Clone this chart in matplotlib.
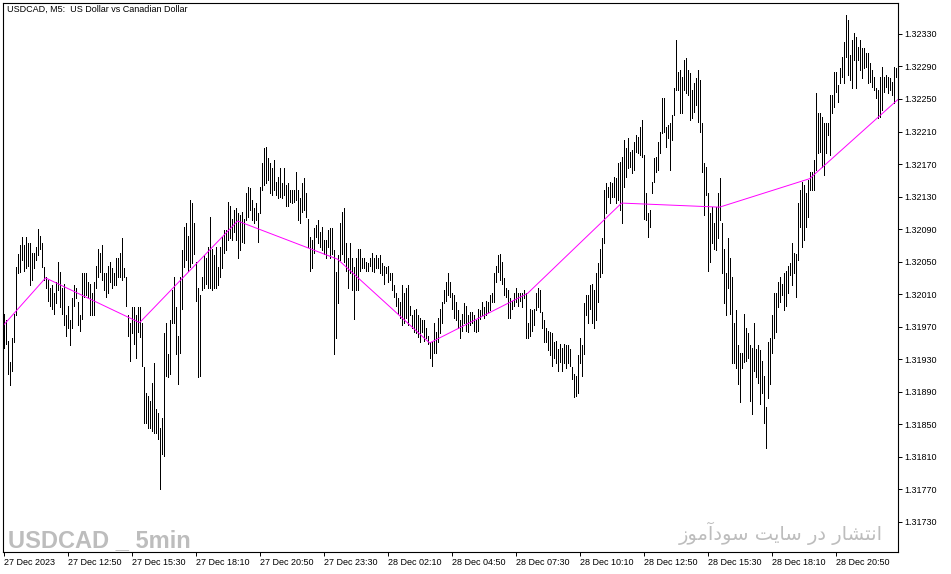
import numpy as np
import matplotlib
matplotlib.use("Agg")
import matplotlib.pyplot as plt

# USDCAD M5 bars, prices stored as points above 1.31000 (1 point = 0.00001)
high_pts = [
    986, 978, 953, 926, 956, 986, 1044, 1060, 1070, 1080,
    1070, 1080, 1073, 1073, 1061, 1061, 1068, 1090, 1082, 1073,
    1043, 1031, 1027, 1017, 1021, 1012, 1025, 1049, 1037, 1018,
    1023, 984, 996, 978, 1005, 1021, 1018, 1000, 984, 1036,
    1036, 1036, 1025, 1023, 1012, 1025, 1045, 1066, 1061, 1070,
    1036, 1036, 1045, 1049, 1042, 1036, 1054, 1055, 1061, 1079,
    1042, 1031, 984, 975, 994, 994, 984, 994,
    994, 975, 920, 889, 885, 879, 901, 925, 869, 864,
    846, 858, 962, 974, 937, 978, 1015, 1031, 994, 959,
    1031, 1064, 1092, 1098, 1082, 1126, 1122, 1098, 1049, 1018,
    1009, 1031, 1058, 1055, 1068, 1105, 1066, 1058, 1068, 1043,
    1068, 1080, 1089, 1089, 1123, 1119, 1103, 1113, 1116, 1110,
    1107, 1111, 1103, 1134, 1142, 1140, 1126, 1116, 1122, 1110,
    1142, 1171, 1190, 1191, 1177,
    1171, 1165, 1175, 1148, 1154, 1165, 1147, 1165, 1144, 1147,
    1138, 1138, 1138, 1160, 1138, 1128, 1147, 1153, 1134, 1103,
    1080, 1076, 1091, 1095, 1101, 1086, 1092, 1076, 1076, 1089,
    1091, 1091, 1064, 1037, 1058, 1097, 1111, 1116, 1073, 1054,
    1073, 1054, 1043, 1054, 1066, 1066, 1055, 1054, 1049, 1048,
    1054, 1061, 1054, 1058, 1054, 1058, 1048, 1045, 1043, 1045,
    1036, 1036, 1021, 1012, 1005, 1000, 1021, 1012, 1018, 1021,
    996, 984, 990, 992, 984, 981, 978, 978, 968, 959,
    951, 951, 975, 963, 981, 992, 1000, 1015, 1025, 1036,
    1025, 1012, 1009, 1000, 990, 978, 986, 999, 996, 984,
    988, 988, 984, 978, 992, 990, 1000, 994, 1002, 1000,
    1009, 1011, 1036, 1045, 1058, 1060, 1049, 1030, 1017, 1015,
    1005, 1002, 1012, 1017, 1012, 1011, 1012, 1015, 1011, 974,
    992, 990, 992, 1011, 1018, 1015, 988, 978, 969, 965,
    963, 962, 951, 953, 943, 949, 944, 949, 947, 947,
    943, 920, 912, 910, 935, 956, 947, 999, 1009, 1009,
    1021, 1023, 1015, 1036, 1048, 1066, 1079, 1138, 1147, 1142,
    1148, 1147, 1154, 1153, 1171, 1172, 1179, 1200, 1190, 1202,
    1185, 1187, 1197, 1206, 1203, 1216, 1224, 1181, 1134, 1110,
    1113, 1148, 1177, 1179, 1197, 1209, 1251, 1251, 1216, 1218,
    1220, 1230, 1264, 1323, 1283, 1286, 1277, 1298, 1300, 1286,
    1282, 1261, 1270, 1276, 1286, 1273, 1220, 1171, 1166, 1134,
    1110, 1117, 1097, 1117, 1134, 1153, 1098, 1066, 1036, 1079,
    1055, 1031, 974, 990, 947, 938, 938, 986, 969, 962,
    947, 944, 974, 943, 947, 941, 928, 910, 871, 951,
    956, 984, 1011, 1012, 1025, 1031, 1023, 1036, 1039, 1045,
    1048, 1073, 1061, 1060, 1122,
    1138, 1148, 1144, 1134, 1150, 1160, 1160, 1175, 1257, 1233,
    1233, 1228, 1220, 1220, 1220, 1255, 1255, 1283, 1283, 1267,
    1288, 1302, 1320, 1353, 1347, 1304, 1323, 1331, 1326, 1314,
    1323, 1313, 1313, 1307, 1307, 1294, 1286, 1277, 1264, 1261,
    1277, 1289, 1277, 1280, 1277, 1276, 1271, 1289, 1288, 1298,
]
low_pts = [
    944, 949, 912, 898, 916, 951, 984, 1036, 1037, 1052,
    1039, 1042, 1045, 1021, 1027, 1042, 1052, 1058, 1066, 1043,
    1027, 1018, 1002, 996, 992, 986, 999, 1015, 994, 986,
    972, 959, 968, 947, 968, 996, 1005, 972, 965, 980,
    1006, 1009, 1006, 984, 984, 984, 1018, 1031, 1037, 1027,
    1015, 1006, 1012, 1025, 1017, 1021, 1021, 1031, 1031, 1027,
    1031, 996, 959, 928, 962, 949, 932, 963,
    957, 922, 851, 852, 846, 845, 842, 839, 839, 832,
    771, 814, 811, 910, 908, 912, 974, 975, 937, 900,
    938, 992, 1043, 1052, 1039, 1043, 1048, 1060, 1002, 908,
    910, 1015, 1017, 1023, 1017, 1018, 1015, 1018, 1018, 1021,
    1031, 1042, 1061, 1064, 1076, 1079, 1076, 1086, 1076, 1055,
    1064, 1074, 1073, 1101, 1105, 1113, 1101, 1097, 1101, 1074,
    1110, 1138, 1144, 1147, 1150,
    1134, 1132, 1138, 1132, 1128, 1129, 1128, 1132, 1119, 1119,
    1123, 1122, 1123, 1126, 1101, 1098, 1111, 1113, 1105, 1068,
    1039, 1042, 1061, 1080, 1073, 1068, 1064, 1060, 1054, 1068,
    1055, 1060, 937, 956, 999, 1052, 1060, 1049, 1039, 1018,
    1036, 1015, 980, 1015, 1015, 1039, 1042, 1042, 1039, 1039,
    1045, 1039, 1037, 1042, 1042, 1036, 1033, 1023, 1036, 1025,
    1027, 1015, 1006, 996, 986, 981, 972, 975, 981, 972,
    984, 969, 963, 962, 957, 951, 963, 953, 956, 949,
    931, 922, 938, 938, 951, 962, 975, 999, 1002, 1009,
    1006, 992, 981, 978, 969, 956, 965, 974, 965, 963,
    972, 975, 965, 963, 965, 980, 984, 981, 984, 988,
    990, 1000, 1000, 1025, 1037, 1027, 1023, 1009, 1006, 981,
    981, 992, 996, 1000, 996, 1002, 994, 1005, 956, 956,
    959, 965, 972, 990, 994, 988, 968, 951, 951, 941,
    935, 922, 931, 925, 916, 926, 916, 925, 919, 925,
    922, 906, 883, 885, 889, 925, 910, 937, 984, 975,
    992, 974, 969, 978, 1000, 1031, 1036, 1073, 1110, 1129,
    1122, 1129, 1129, 1122, 1126, 1113, 1097, 1142, 1154, 1165,
    1166, 1159, 1163, 1185, 1184, 1181, 1179, 1103, 1101, 1080,
    1092, 1134, 1148, 1160, 1163, 1183, 1208, 1209, 1191, 1202,
    1163, 1200, 1230, 1261, 1261, 1233, 1233, 1261, 1257, 1255,
    1224, 1227, 1234, 1243, 1222, 1209, 1160, 1107, 1132, 1039,
    1049, 1073, 1066, 1064, 1079, 1101, 1036, 999, 984, 1018,
    986, 925, 925, 919, 900, 877, 919, 926, 928, 931,
    879, 863, 916, 908, 901, 875, 889, 851, 821, 882,
    900, 938, 956, 963, 994, 1000, 1009, 990, 996, 1011,
    1033, 1021, 1036, 1006, 1052,
    1092, 1068, 1076, 1092, 1105, 1138, 1138, 1138, 1163, 1184,
    1185, 1166, 1156, 1184, 1206, 1181, 1233, 1240, 1259, 1246,
    1270, 1277, 1270, 1302, 1280, 1273, 1264, 1298, 1264, 1298,
    1286, 1276, 1288, 1289, 1270, 1271, 1265, 1261, 1251, 1227,
    1228, 1236, 1259, 1265, 1257, 1261, 1255, 1245, 1277, 1280,
]

# magenta indicator: turning points (bar index, points above 1.31000)
ind_bars = [0, 21, 68, 117, 167, 213, 262, 309, 358, 403, 447]
ind_pts = [972, 1030, 975, 1100, 1053, 950, 1011, 1122, 1117, 1152, 1249]

time_bars = [0, 32, 64, 96, 128, 160, 192, 224, 256, 288, 320, 352, 384, 416]
time_labels = ["27 Dec 2023", "27 Dec 12:50", "27 Dec 15:30", "27 Dec 18:10",
               "27 Dec 20:50", "27 Dec 23:30", "28 Dec 02:10", "28 Dec 04:50",
               "28 Dec 07:30", "28 Dec 10:10", "28 Dec 12:50", "28 Dec 15:30",
               "28 Dec 18:10", "28 Dec 20:50"]

price_ticks = ["1.31730", "1.31770", "1.31810", "1.31850", "1.31890", "1.31930",
               "1.31970", "1.32010", "1.32050", "1.32090", "1.32130", "1.32170",
               "1.32210", "1.32250", "1.32290", "1.32330"]

base = 1.31
highs = base + np.array(high_pts) / 1e5
lows = base + np.array(low_pts) / 1e5
bars = np.arange(len(highs))

W, H = 951, 574
fig = plt.figure(figsize=(W / 100, H / 100), dpi=100)
ax = fig.add_axes([3 / W, 1 - 552 / H, 895 / W, 549 / H])

# thin 1px bars, no antialiasing like the terminal
ax.vlines(bars, lows, highs, colors="black", linewidth=0.5, antialiased=False)
ax.plot(ind_bars, base + np.array(ind_pts) / 1e5, color="#ff00ff", linewidth=0.7)

ax.set_xlim(-0.3, 447.2)
ax.set_ylim(1.31693, 1.32368)

tick_font = dict(family=["Liberation Sans", "DejaVu Sans"], size=6.5)

ax.yaxis.tick_right()
ax.set_yticks([float(t) for t in price_ticks])
ax.set_yticklabels(price_ticks, **tick_font)
ax.set_xticks(time_bars)
ax.set_xticklabels(time_labels, ha="left", **tick_font)
ax.tick_params(axis="both", direction="out", length=3, width=0.7, color="black")
ax.tick_params(axis="x", pad=1)
ax.tick_params(axis="y", pad=1.5)

for s in ax.spines.values():
    s.set_linewidth(0.8)
    s.set_color("black")

fig.text(7 / W, 1 - 9 / H, "USDCAD, M5:  US Dollar vs Canadian Dollar",
         ha="left", va="center", **tick_font)

fig.text(8 / W, 1 - 547 / H, "USDCAD _ 5min", ha="left", va="baseline",
         family=["Liberation Sans"], weight="bold", size=17, color="#bdbdbd")

# Persian watermark, written with Arabic presentation forms in visual order
fa_text = ("\uFEAF\uFEEE\uFEE3\uFE81\uFEA9\uFEEE\uFEB3"
           " \uFE96\uFBFE\uFE8E\uFEB3"
           " \uFEAD\uFEA9"
           " \uFEAD\uFE8E\uFEB8\uFE98\uFEE7\uFE8D")
fig.text(883 / W, 1 - 540 / H, fa_text, ha="right", va="baseline",
         family=["DejaVu Sans"], size=14, color="#bdbdbd")

fig.savefig("out.png", dpi=100)
